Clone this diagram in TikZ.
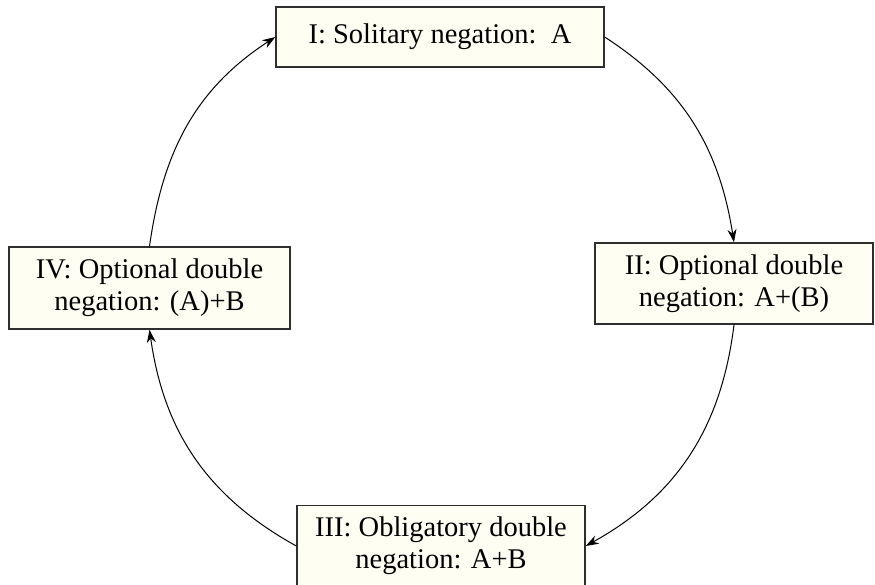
\documentclass[tikz,border=0pt]{standalone}
\usepackage{fontspec}
\setmainfont{Liberation Serif}
\usepackage{tikz}
\usetikzlibrary{arrows.meta}

\definecolor{boxfill}{HTML}{FEFEF3}
\definecolor{boxline}{HTML}{2E2E2E}

\begin{document}
\begin{tikzpicture}[x=1pt,y=1pt,
  stage/.style={draw=boxline,line width=1.4pt,fill=boxfill,rectangle,
    align=center,inner sep=0pt,font=\fontsize{28.5}{32}\selectfont},
  cyc/.style={draw=black,line width=1pt,-{Stealth[length=13pt,width=9pt]}}]
  \useasboundingbox (0,0) rectangle (875,-584);

  \node[stage,minimum width=328,minimum height=60] (I) at (440,-37) {I: Solitary negation:\ \ A};

  \node[stage,minimum width=278,minimum height=81] (II) at (734,-283.5) {II: Optional double\\negation: A+(B)};

  \node[stage,minimum width=288,minimum height=81] (III) at (441,-546) {III: Obligatory double\\negation: A+B};

  \node[stage,minimum width=281,minimum height=82] (IV) at (149.5,-288) {IV: Optional double\\negation: (A)+B};

  \draw[cyc] (I.east) to[out=-33,in=99] (II.north);
  \draw[cyc] (II.south) to[out=-97,in=29] (III.east);
  \draw[cyc] (III.west) to[out=151,in=-82] (IV.south);
  \draw[cyc] (IV.north) to[out=82,in=213] (I.west);
\end{tikzpicture}
\end{document}
